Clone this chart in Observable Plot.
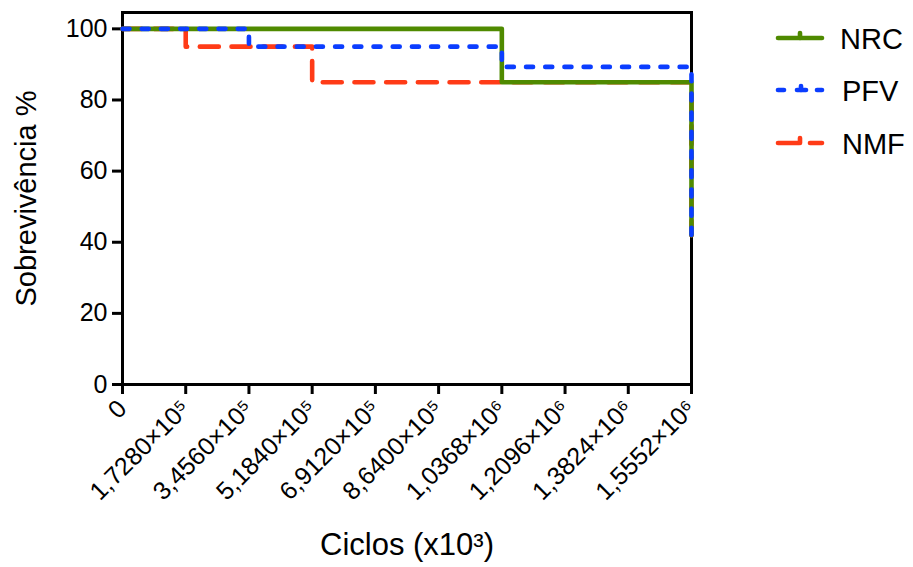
<!DOCTYPE html>
<html>
<head>
<meta charset="utf-8">
<script src="https://cdn.jsdelivr.net/npm/d3@7"></script>
<script src="https://cdn.jsdelivr.net/npm/@observablehq/plot@0.6"></script>
<style>
  html, body { margin: 0; padding: 0; background: #fff; }
  #wrap { position: relative; width: 913px; height: 567px; }
  #legend { position: absolute; left: 0; top: 0; pointer-events: none; }
</style>
</head>
<body>
<div id="wrap"></div>
<script>
// ---- data ----
const seriesNames = ["NRC", "PFV", "NMF"];
const nrcTimes = [0, 1036800, 1555200];
const nrcSurv  = [100, 85, 42];
const pfvTimes = [0, 345600, 1036800, 1555200];
const pfvSurv  = [100, 95, 89.3, 42];
const nmfTimes = [0, 172800, 518400, 1555200];
const nmfSurv  = [100, 95, 85, 42];
const xTicks = [0, 172800, 345600, 518400, 691200, 864000, 1036800, 1209600, 1382400, 1555200];
const xTickLabels = ["0", "1,7280×10⁵", "3,4560×10⁵", "5,1840×10⁵", "6,9120×10⁵", "8,6400×10⁵",
                     "1,0368×10⁶", "1,2096×10⁶", "1,3824×10⁶", "1,5552×10⁶"];
const yTicks = [0, 20, 40, 60, 80, 100];
const xTitle = "Ciclos (x10³)";
const yTitle = "Sobrevivência %";

const colors = {NRC: "#4f8a00", PFV: "#0b3dff", NMF: "#ff3b17"};
const toRows = (name, t, s) => t.map((d, i) => ({series: name, t: d, s: s[i]}));
const nrc = toRows("NRC", nrcTimes, nrcSurv);
const pfv = toRows("PFV", pfvTimes, pfvSurv);
const nmf = toRows("NMF", nmfTimes, nmfSurv);

const font = "'Liberation Sans', Arial, Helvetica, sans-serif";

const chart = Plot.plot({
  width: 913,
  height: 567,
  marginLeft: 122,
  marginRight: 222,
  marginTop: 12,
  marginBottom: 183,
  style: {fontFamily: font, color: "#000", background: "#fff", overflow: "visible"},
  x: {domain: [0, 1555200]},
  y: {domain: [0, 104.6]},
  marks: [
    Plot.frame({stroke: "#000", strokeWidth: 3}),
    Plot.axisY({ticks: yTicks, tickSize: 10, tickPadding: 5, strokeWidth: 3, fontSize: 25, label: null}),
    Plot.axisX({ticks: xTicks, tickSize: 10, tickPadding: 10, strokeWidth: 3, fontSize: 25,
      tickRotate: -45, label: null, tickFormat: d => xTickLabels[xTicks.indexOf(d)]}),
    Plot.line(nmf, {x: "t", y: "s", curve: "step-after", stroke: colors.NMF, strokeWidth: 4.6,
      strokeDasharray: "19,12.7", strokeLinecap: "round"}),
    Plot.line(nrc, {x: "t", y: "s", curve: "step-after", stroke: colors.NRC, strokeWidth: 4.6}),
    Plot.line(pfv, {x: "t", y: "s", curve: "step-after", stroke: colors.PFV, strokeWidth: 4.6,
      strokeDasharray: "7,12.2", strokeLinecap: "round"}),
    Plot.text([xTitle], {text: d => d, frameAnchor: "bottom", dy: 161, fontSize: 31,
      textAnchor: "middle", lineAnchor: "middle"}),
    Plot.text([yTitle], {text: d => d, frameAnchor: "left", dx: -96, rotate: -90, fontSize: 29,
      textAnchor: "middle", lineAnchor: "middle"})
  ]
});
document.getElementById("wrap").appendChild(chart);

// ---- legend (HTML overlay) ----
const ns = "http://www.w3.org/2000/svg";
const leg = document.createElementNS(ns, "svg");
leg.setAttribute("id", "legend");
leg.setAttribute("width", 913);
leg.setAttribute("height", 567);
const rowY = [38, 90, 143];
function ln(x1, y1, x2, y2, c) {
  const l = document.createElementNS(ns, "line");
  l.setAttribute("x1", x1); l.setAttribute("y1", y1);
  l.setAttribute("x2", x2); l.setAttribute("y2", y2);
  l.setAttribute("stroke", c); l.setAttribute("stroke-width", 4.6);
  l.setAttribute("stroke-linecap", "round");
  leg.appendChild(l);
}
seriesNames.forEach((name, i) => {
  const y = rowY[i], c = colors[name];
  if (name === "NRC") {
    ln(778, y, 822, y, c); ln(800, y - 5, 800, y, c);
  } else if (name === "PFV") {
    ln(778, y, 784, y, c); ln(797, y, 806, y, c); ln(801, y - 4, 801, y, c); ln(817, y, 822, y, c);
  } else {
    ln(778, y, 799, y, c); ln(800, y - 5, 800, y, c); ln(810, y, 822, y, c);
  }
  const t = document.createElementNS(ns, "text");
  t.setAttribute("x", name === "NRC" ? 840 : 842);
  t.setAttribute("y", y + 10.5);
  t.setAttribute("font-family", font);
  t.setAttribute("font-size", 29);
  t.setAttribute("fill", "#000");
  t.textContent = name;
  leg.appendChild(t);
});
document.getElementById("wrap").appendChild(leg);
</script>
</body>
</html>
